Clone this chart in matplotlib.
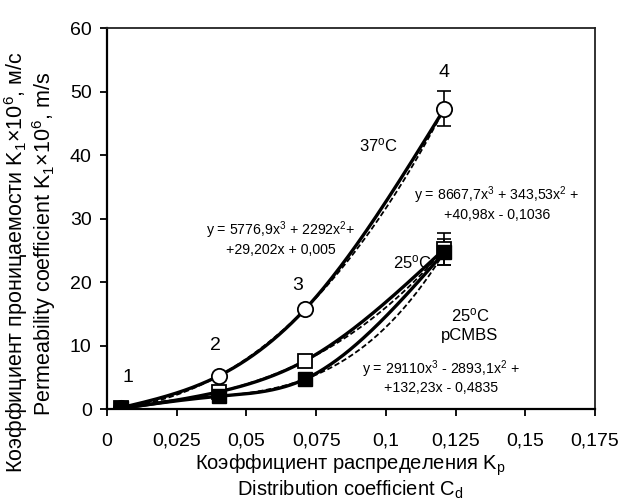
import numpy as np
import matplotlib
matplotlib.use("Agg")
import matplotlib.pyplot as plt

plt.rcParams["font.family"] = ["Liberation Sans", "DejaVu Sans"]
plt.rcParams["mathtext.fontset"] = "custom"
plt.rcParams["mathtext.rm"] = "Liberation Sans"
plt.rcParams["mathtext.it"] = "Liberation Sans"
plt.rcParams["mathtext.default"] = "regular"

# data
x = [0.005, 0.040, 0.071, 0.121]
y37 = [0.2, 5.2, 15.7, 47.3]
y25 = [0.1, 2.7, 7.6, 25.2]
y25p = [0.1, 2.0, 4.7, 24.7]
err37 = 2.8
err25 = 2.5
err25p = 2.0
point_labels = ["1", "2", "3", "4"]

xticks = [0, 0.025, 0.05, 0.075, 0.1, 0.125, 0.15, 0.175]
xticklabels = ["0", "0,025", "0,05", "0,075", "0,1", "0,125", "0,15", "0,175"]
yticks = [0, 10, 20, 30, 40, 50, 60]


def natural_spline(xs, ys, n=200):
    # smooth line through the points (like the plotting program's spline line)
    xs = np.asarray(xs, float)
    ys = np.asarray(ys, float)
    k = len(xs)
    h = np.diff(xs)
    A = np.zeros((k, k))
    b = np.zeros(k)
    A[0, 0] = A[-1, -1] = 1
    for i in range(1, k - 1):
        A[i, i - 1] = h[i - 1]
        A[i, i] = 2 * (h[i - 1] + h[i])
        A[i, i + 1] = h[i]
        b[i] = 6 * ((ys[i + 1] - ys[i]) / h[i] - (ys[i] - ys[i - 1]) / h[i - 1])
    M = np.linalg.solve(A, b)
    xx = np.linspace(xs[0], xs[-1], n)
    idx = np.clip(np.searchsorted(xs, xx) - 1, 0, k - 2)
    x0, x1 = xs[idx], xs[idx + 1]
    hh = x1 - x0
    t0, t1 = x1 - xx, xx - x0
    yy = (M[idx] * t0 ** 3 + M[idx + 1] * t1 ** 3) / (6 * hh) \
        + (ys[idx] / hh - M[idx] * hh / 6) * t0 + (ys[idx + 1] / hh - M[idx + 1] * hh / 6) * t1
    return xx, yy


fig = plt.figure(figsize=(6.37, 5.01), dpi=100)
ax = fig.add_axes([0.168, 0.1836, 0.766, 0.7604])

for ys in (y37, y25, y25p):
    xs_, ys_ = natural_spline(x, ys)
    ax.plot(xs_, ys_, color="black", lw=2.4, zorder=2)
    c = np.polyfit(x, ys, 3)  # cubic trend line
    xf = np.linspace(x[0], x[-1], 200)
    ax.plot(xf, np.polyval(c, xf), color="black", lw=1.3, ls=(0, (3, 1.5)), zorder=2)

for ys, e in ((y37, err37), (y25, err25), (y25p, err25p)):
    ax.errorbar(x[-1], ys[-1], yerr=e, fmt="none", ecolor="black",
                elinewidth=1.2, capsize=5, capthick=1.2, zorder=3)

ax.plot(x, y37, "o", ms=11, mfc="white", mec="black", mew=1.3, zorder=4)
ax.plot(x, y25, "s", ms=10, mfc="white", mec="black", mew=1.3, zorder=4)
ax.plot(x, y25p, "s", ms=10, mfc="black", mec="black", zorder=5)

offs = [(7, 30), (-3, 30), (-7, 24), (0, 36)]
for lab, xx, yy, (dx, dy) in zip(point_labels, x, y37, offs):
    ax.annotate(lab, (xx, yy), xytext=(dx, dy), textcoords="offset pixels",
                ha="center", va="center", fontsize=14)

eq = 10.2
ax.text(0.0972, 41.6, "37$^{o}$C", fontsize=12, ha="center", va="center")
ax.text(0.0624, 28.2, "y = 5776,9x$^{3}$ + 2292x$^{2}$+", fontsize=eq, ha="center", va="center")
ax.text(0.0624, 25.0, "+29,202x + 0,005", fontsize=eq, ha="center", va="center")
ax.text(0.1399, 33.6, "y = 8667,7x$^{3}$ + 343,53x$^{2}$ +", fontsize=eq, ha="center", va="center")
ax.text(0.1399, 30.5, "+40,98x - 0,1036", fontsize=eq, ha="center", va="center")
ax.text(0.1094, 23.1, "25$^{o}$C", fontsize=12, ha="center", va="center")
ax.text(0.1302, 14.8, "25$^{o}$C", fontsize=12, ha="center", va="center")
ax.text(0.1302, 11.5, "pCMBS", fontsize=12, ha="center", va="center")
ax.text(0.1198, 6.2, "y = 29110x$^{3}$ - 2893,1x$^{2}$ +", fontsize=eq, ha="center", va="center")
ax.text(0.1198, 3.3, "+132,23x - 0,4835", fontsize=eq, ha="center", va="center")

ax.set_xlim(0, 0.175)
ax.set_ylim(0, 60)
ax.set_xticks(xticks)
ax.set_xticklabels(xticklabels)
ax.set_yticks(yticks)
ax.tick_params(direction="out", length=5, width=1.3, labelsize=14, pad=12)
ax.tick_params(axis="y", pad=6)
for s in ax.spines.values():
    s.set_linewidth(1.6)
ax.spines["top"].set_linewidth(1.3)
ax.spines["right"].set_linewidth(1.3)
ax.spines["top"].set_color("#222222")
ax.spines["right"].set_color("#222222")

fig.text(0.55, 0.071, "Коэффициент распределения K$_{p}$", fontsize=14.5, ha="center", va="center")
fig.text(0.55, 0.022, "Distribution coefficient C$_{d}$", fontsize=14.5, ha="center", va="center")
fig.text(0.025, 0.477, "Коэффициент проницаемости K$_{1}$×10$^{6}$, м/с", fontsize=15.5,
         rotation=90, ha="center", va="center")
fig.text(0.069, 0.513, "Permeability coefficient K$_{1}$×10$^{6}$, m/s", fontsize=15.5,
         rotation=90, ha="center", va="center")

fig.savefig("out.png", dpi=100)
